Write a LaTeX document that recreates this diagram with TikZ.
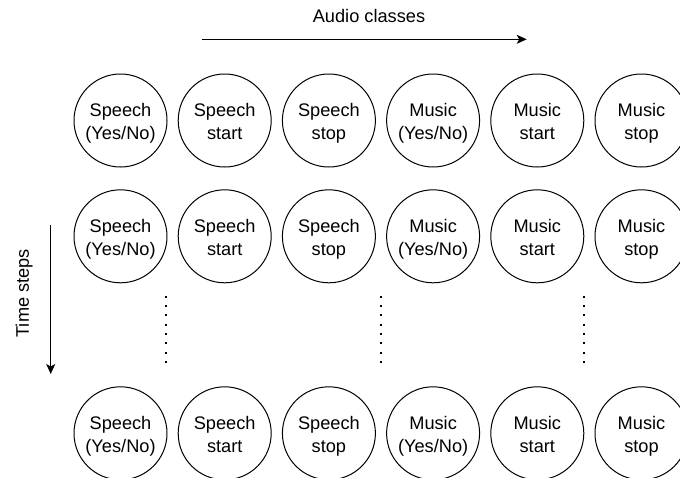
\documentclass[tikz,border=0pt]{standalone}
\usepackage{fontspec}
\setmainfont{Liberation Sans}
\usepackage{tikz}
\usetikzlibrary{arrows.meta}
\usetikzlibrary{positioning}
\tikzset{>={Stealth[length=10pt, width=9pt, inset=2.5pt]}}
\tikzstyle{cls} = [circle, draw=black, line width=1pt, minimum size=93pt, inner sep=0, align=center, text height=37.6pt, text depth=0pt]
\tikzstyle{dots} = [draw=black, line width=2pt, dash pattern=on 2pt off 7.33pt]

\begin{document}
\begin{tikzpicture}[x=1pt, y=-1pt, font=\fontsize{18.2pt}{22.7pt}\selectfont]
\clip (0,0) rectangle (680,477);
% axis labels
\node [draw=none, inner sep=0] (AC) at (369, 16.3) {Audio classes};
\node [draw=none, inner sep=0, rotate=90] (TS) at (24.2, 293.3) {Time steps};
\coordinate (ACs) at (201.7, 39.3);
\coordinate (ACe) at (526.7, 39.3);
\coordinate (TSs) at (50.7, 225);
\coordinate (TSe) at (50.7, 374);
\draw [->, line width=1pt] (ACs) to (ACe);
\draw [->, line width=1pt] (TSs) to (TSe);
% first time step
\node [cls] (Sy1) at (120.5, 120.5) {Speech\\(Yes/No)};
\node [cls] (Sa1) at (224.7, 120.5) {Speech\\start};
\node [cls] (So1) at (328.9, 120.5) {Speech\\stop};
\node [cls] (My1) at (433.1, 120.5) {Music\\(Yes/No)};
\node [cls] (Ma1) at (537.3, 120.5) {Music\\start};
\node [cls] (Mo1) at (641.5, 120.5) {Music\\stop};
% second time step
\node [cls] (Sy2) at (120.5, 236.3) {Speech\\(Yes/No)};
\node [cls] (Sa2) at (224.7, 236.3) {Speech\\start};
\node [cls] (So2) at (328.9, 236.3) {Speech\\stop};
\node [cls] (My2) at (433.1, 236.3) {Music\\(Yes/No)};
\node [cls] (Ma2) at (537.3, 236.3) {Music\\start};
\node [cls] (Mo2) at (641.5, 236.3) {Music\\stop};
% last time step
\node [cls] (Sy3) at (120.5, 433.3) {Speech\\(Yes/No)};
\node [cls] (Sa3) at (224.7, 433.3) {Speech\\start};
\node [cls] (So3) at (328.9, 433.3) {Speech\\stop};
\node [cls] (My3) at (433.1, 433.3) {Music\\(Yes/No)};
\node [cls] (Ma3) at (537.3, 433.3) {Music\\start};
\node [cls] (Mo3) at (641.5, 433.3) {Music\\stop};
% dots in between
\coordinate (D1t) at (166, 295.7);
\coordinate (D1b) at (166, 363);
\coordinate (D2t) at (380.7, 295.7);
\coordinate (D2b) at (380.7, 363);
\coordinate (D3t) at (583.5, 295.7);
\coordinate (D3b) at (583.5, 363);
\draw [dots] (D1t) to (D1b);
\draw [dots] (D2t) to (D2b);
\draw [dots] (D3t) to (D3b);
\end{tikzpicture}
\end{document}
